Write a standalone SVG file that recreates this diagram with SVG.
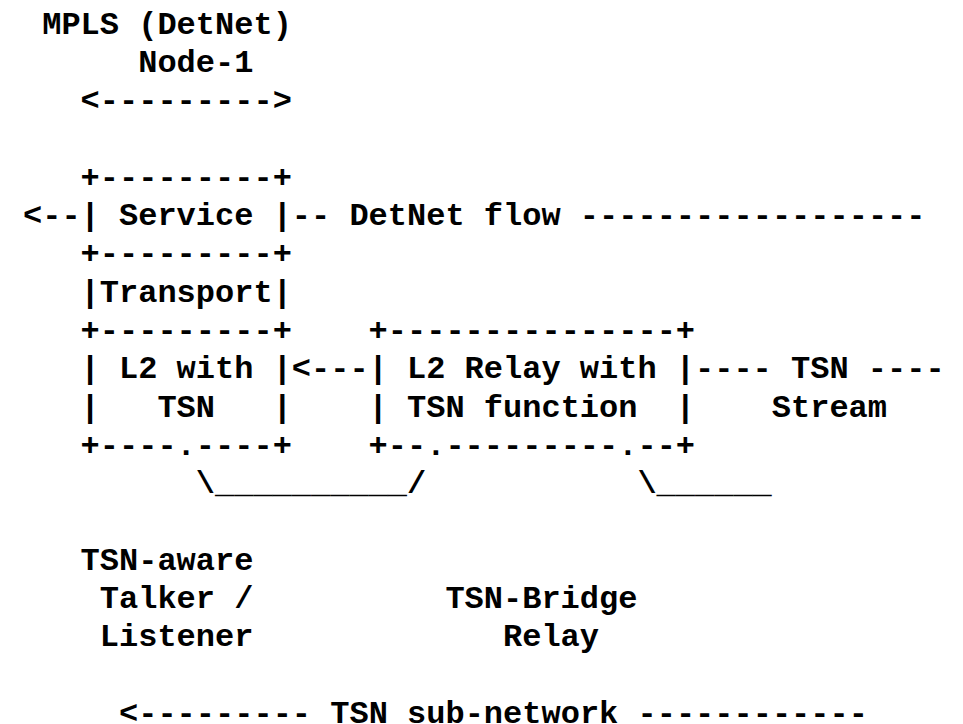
<svg xmlns="http://www.w3.org/2000/svg" width="963" height="724" viewBox="0 0 963 724">
<style>
text { font-family: "Liberation Mono", "DejaVu Sans Mono", monospace; font-weight: bold; font-size: 32px; fill: #000; white-space: pre; }
</style>
<rect width="963" height="724" fill="#fff"/>
<g id="node-1-label">
<text x="42.2" y="33.5" xml:space="preserve">MPLS (DetNet)</text>
<text x="138.2" y="71.8" xml:space="preserve">Node-1</text>
<text x="80.6" y="110.1" xml:space="preserve">&lt;---------&gt;</text>
</g>
<g id="node-1">
<text x="80.6" y="186.7" xml:space="preserve">+---------+</text>
<text x="80.6" y="225" xml:space="preserve">| Service |</text>
<text x="80.6" y="263.3" xml:space="preserve">+---------+</text>
<text x="80.6" y="301.6" xml:space="preserve">|Transport|</text>
<text x="80.6" y="339.9" xml:space="preserve">+---------+</text>
<text x="80.6" y="378.2" xml:space="preserve">| L2 with |</text>
<text x="80.6" y="416.5" xml:space="preserve">|   TSN   |</text>
<text x="80.6" y="454.8" xml:space="preserve">+----.----+</text>
</g>
<g id="tsn-bridge">
<text x="368.6" y="339.9" xml:space="preserve">+---------------+</text>
<text x="368.6" y="378.2" xml:space="preserve">| L2 Relay with |</text>
<text x="368.6" y="416.5" xml:space="preserve">| TSN function  |</text>
<text x="368.6" y="454.8" xml:space="preserve">+--.---------.--+</text>
</g>
<g id="connectors">
<text x="23" y="225" xml:space="preserve">&lt;--</text>
<text x="291.8" y="225" xml:space="preserve">-- DetNet flow ------------------</text>
<text x="291.8" y="378.2" xml:space="preserve">&lt;---</text>
<text x="695" y="378.2" xml:space="preserve">---- TSN ----</text>
<text x="771.8" y="416.5" xml:space="preserve">Stream</text>
<text x="195.8" y="493.1" xml:space="preserve">\__________/</text>
<text x="637.4" y="493.1" xml:space="preserve">\______</text>
<text x="119" y="722.9" xml:space="preserve">&lt;--------- TSN sub-network ------------</text>
</g>
<g id="talker-listener-label">
<text x="80.6" y="569.7" xml:space="preserve">TSN-aware</text>
<text x="99.8" y="608" xml:space="preserve">Talker /</text>
<text x="99.8" y="646.3" xml:space="preserve">Listener</text>
</g>
<g id="bridge-label">
<text x="445.4" y="608" xml:space="preserve">TSN-Bridge</text>
<text x="503" y="646.3" xml:space="preserve">Relay</text>
</g>
</svg>
